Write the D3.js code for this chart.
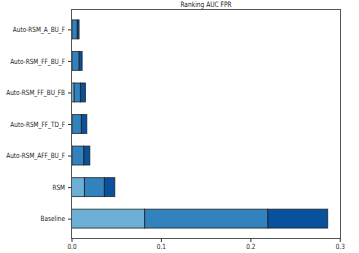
<!DOCTYPE html>
<html>
<head>
<meta charset="utf-8">
<script src="https://cdn.jsdelivr.net/npm/d3@7"></script>
<style>
  body { margin: 0; background: #fff; }
  text { font-family: "DejaVu Sans", sans-serif; fill: #222; }
</style>
</head>
<body>
<div id="chart"></div>
<script>
// chart data, bottom bar first
var categories = ['Baseline', 'RSM', 'Auto-RSM_AFF_BU_F', 'Auto-RSM_FF_TD_F',
                  'Auto-RSM_FF_BU_FB', 'Auto-RSM_FF_BU_F', 'Auto-RSM_A_BU_F'];
var part1 = [0.0818, 0.0145, 0.0005, 0.0005, 0.0030, 0.0005, 0.0005];
var part2 = [0.1378, 0.0223, 0.0133, 0.0106, 0.0070, 0.0081, 0.0060];
var part3 = [0.0669, 0.0116, 0.0067, 0.0060, 0.0056, 0.0033, 0.0020];
var xTicks = [0, 0.1, 0.2, 0.3];
var title = 'Ranking AUC FPR';

var svgWidth = 359,
    svgHeight = 253;

var margin = { top: 9.5, right: 18.5, bottom: 14.5, left: 71.5 };
var width = svgWidth - margin.left - margin.right,
    height = svgHeight - margin.top - margin.bottom;

var svg = d3.select('#chart')
    .append('svg')
    .attr('width', svgWidth)
    .attr('height', svgHeight);

var chartGroup = svg.append('g')
    .attr('transform', `translate(${margin.left},${margin.top})`);

var total = categories.map((c, i) => part1[i] + part2[i] + part3[i]);
var barH = 0.6;

var xScale = d3.scaleLinear()
    .domain([0, d3.max(total) * 1.05])
    .range([0, width]);

// matplotlib style y limits with 5% margin
var yLo = -barH / 2, yHi = categories.length - 1 + barH / 2;
var pad = (yHi - yLo) * 0.05;
var yScale = d3.scaleLinear()
    .domain([yLo - pad, yHi + pad])
    .range([height, 0]);

var colors = ['#6baed6', '#3182bd', '#08519c'];
var parts = [part1, part2, part3];

categories.forEach((c, i) => {
    var start = 0;
    parts.forEach((p, k) => {
        chartGroup.append('rect')
            .attr('x', xScale(start))
            .attr('y', yScale(i + barH / 2))
            .attr('width', xScale(start + p[i]) - xScale(start))
            .attr('height', yScale(i - barH / 2) - yScale(i + barH / 2))
            .attr('fill', colors[k])
            .attr('stroke', '#1a1a1a')
            .attr('stroke-opacity', 0.75)
            .attr('stroke-width', 1);
        start += p[i];
    });
});

// frame
chartGroup.append('rect')
    .attr('width', width)
    .attr('height', height)
    .attr('fill', 'none')
    .attr('stroke', '#555')
    .attr('stroke-width', 1);

var xAxis = chartGroup.append('g')
    .attr('transform', `translate(0,${height})`)
    .call(d3.axisBottom(xScale).tickValues(xTicks).tickFormat(d3.format('.1f')).tickSizeOuter(0).tickSize(3.5).tickPadding(2));

var yAxis = chartGroup.append('g')
    .call(d3.axisLeft(yScale).tickValues(d3.range(categories.length))
        .tickFormat(i => categories[i]).tickSizeOuter(0).tickSize(3.5).tickPadding(3));

[xAxis, yAxis].forEach(a => {
    a.select('.domain').remove();
    a.selectAll('line').attr('stroke', '#333');
    a.selectAll('text').style('font-size', '7.2px').attr('fill', '#222');
});

var titleText = svg.append('text')
    .attr('x', margin.left + width / 2)
    .attr('y', 6.5)
    .attr('text-anchor', 'middle')
    .style('font-size', '7.4px')
    .text(title);

// the reference glyphs are narrower than DejaVu, squeeze them
var squeeze = 0.8;
svg.selectAll('text').each(function() {
    var len = this.getComputedTextLength();
    d3.select(this)
        .attr('textLength', len * squeeze)
        .attr('lengthAdjust', 'spacingAndGlyphs');
});
</script>
</body>
</html>
